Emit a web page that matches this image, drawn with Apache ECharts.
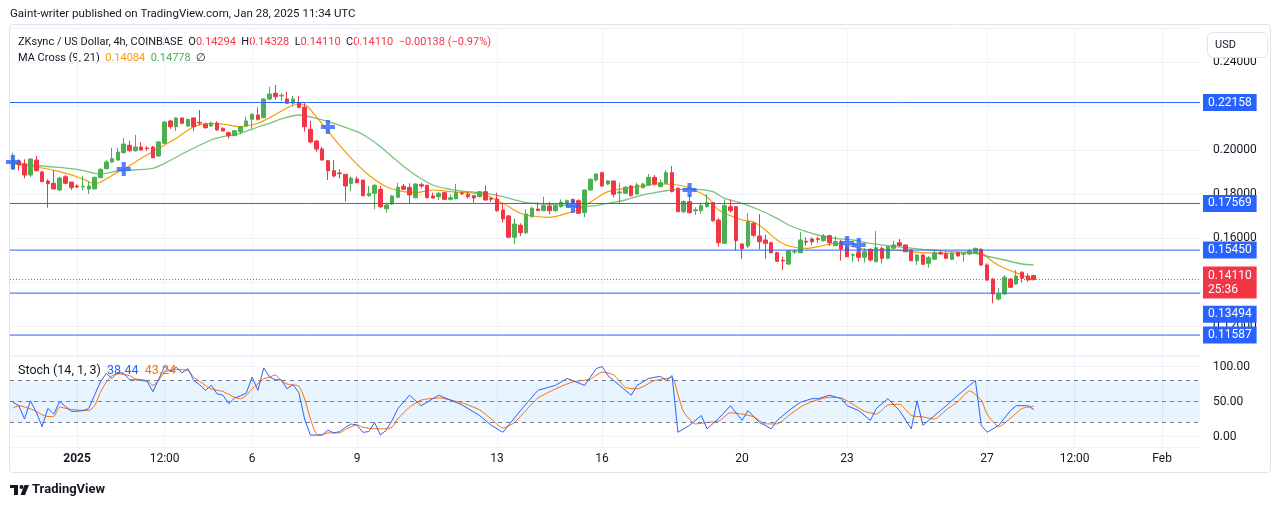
<!DOCTYPE html>
<html><head><meta charset="utf-8">
<script src="https://cdn.jsdelivr.net/npm/echarts@6/dist/echarts.min.js"></script>
<style>html,body{margin:0;padding:0;background:#fff;}#c{width:1281px;height:508px;}</style>
</head><body><div id="c"></div>
<script>
const FONT = "Roboto, 'Liberation Sans', sans-serif";
const startTime = Date.UTC(2024, 11, 30, 4);
const slotCount = 204;
const categories = [];
for (let i = 0; i < slotCount; i++) {
  categories.push(new Date(startTime + i * 4 * 3600e3).toISOString().slice(0, 16).replace('T', ' '));
}
const tickIdx = [11, 26, 41, 59, 83, 101, 125, 143, 167, 182, 197];
const tickText = ['2025', '12:00', '6', '9', '13', '16', '20', '23', '27', '12:00', 'Feb'];

const opens = [0.19123,0.19500,0.19364,0.18864,0.19545,0.19000,0.18591,0.18486,0.18182,0.18786,
0.18545,0.18364,0.18318,0.18227,0.18227,0.18741,0.19150,0.19455,0.19545,0.19877,
0.20214,0.19968,0.20136,0.20091,0.20136,0.19727,0.20305,0.21318,0.21059,0.21455,
0.21091,0.21455,0.21259,0.21168,0.21091,0.21214,0.20986,0.20786,0.20650,0.20832,
0.21091,0.21395,0.21591,0.21468,0.22318,0.22577,0.22455,0.22318,0.22123,0.22150,
0.21941,0.20941,0.20409,0.20045,0.19514,0.19059,0.18955,0.18895,0.18486,0.18682,
0.18636,0.17923,0.18032,0.18214,0.17332,0.17545,0.17850,0.18350,0.18305,0.17832,
0.18423,0.18395,0.17909,0.17877,0.18059,0.17759,0.17786,0.18045,0.17986,0.17923,
0.17877,0.18105,0.17805,0.17773,0.17273,0.17000,0.16032,0.16577,0.16241,0.16968,
0.17318,0.17241,0.17455,0.17241,0.17423,0.17545,0.17695,0.17695,0.17150,0.18182,
0.18636,0.18968,0.18455,0.18591,0.18045,0.18032,0.18364,0.18000,0.18286,0.18409,
0.18759,0.18332,0.18486,0.18968,0.18259,0.17195,0.17650,0.17241,0.17241,0.17423,
0.17605,0.16818,0.15759,0.17423,0.17423,0.15727,0.15636,0.16668,0.16091,0.15909,
0.15786,0.15332,0.14986,0.14818,0.15364,0.15332,0.15850,0.15955,0.15968,0.15877,
0.16105,0.15650,0.15832,0.15559,0.15214,0.15332,0.15123,0.15486,0.14923,0.15532,
0.15077,0.15532,0.15786,0.15682,0.15455,0.14968,0.15227,0.14850,0.15032,0.15332,
0.15273,0.15032,0.15332,0.15259,0.15273,0.15305,0.15486,0.14773,0.14136,0.13227,
0.13455,0.14136,0.13909,0.14441,0.14273,0.14294];
const closes = [0.19545,0.19318,0.18864,0.19591,0.19059,0.18559,0.18468,0.18227,0.18727,0.18486,
0.18286,0.18318,0.18350,0.18364,0.18759,0.19123,0.19455,0.19605,0.19909,0.20273,
0.19968,0.20136,0.20000,0.20059,0.19650,0.20364,0.21273,0.21059,0.21455,0.21214,
0.21395,0.21059,0.21227,0.21014,0.21214,0.20909,0.20864,0.20650,0.20877,0.21059,
0.21318,0.21623,0.21395,0.22318,0.22545,0.22423,0.22486,0.22123,0.22318,0.21941,
0.21059,0.20364,0.20045,0.19545,0.19059,0.18818,0.18923,0.18364,0.18714,0.18514,
0.17923,0.18032,0.18395,0.17423,0.17500,0.17909,0.18305,0.18214,0.17955,0.18455,
0.18364,0.17832,0.17818,0.18032,0.17759,0.17832,0.18059,0.18014,0.17877,0.17818,
0.18105,0.17727,0.17759,0.17241,0.16864,0.16032,0.16636,0.16241,0.17091,0.17350,
0.17241,0.17468,0.17241,0.17468,0.17623,0.17695,0.17577,0.17123,0.18182,0.18668,
0.18909,0.18364,0.18591,0.17986,0.18091,0.18305,0.17923,0.18409,0.18455,0.18759,
0.18455,0.18514,0.18968,0.18105,0.17195,0.17650,0.17150,0.17286,0.17468,0.17605,
0.16786,0.15786,0.17468,0.17241,0.15877,0.15514,0.16741,0.16123,0.15832,0.15759,
0.15332,0.14941,0.14955,0.15423,0.15395,0.15909,0.15818,0.15832,0.15941,0.16091,
0.15786,0.15832,0.15500,0.15150,0.15241,0.15123,0.15377,0.15000,0.15559,0.15077,
0.15605,0.15682,0.15650,0.15377,0.14968,0.15227,0.14805,0.15105,0.15332,0.15273,
0.15077,0.15305,0.15182,0.15286,0.15423,0.15532,0.14773,0.14091,0.13455,0.13455,
0.14214,0.13759,0.14273,0.14168,0.14091,0.14110];
const highs = [0.19877,0.19577,0.19577,0.19623,0.19727,0.19059,0.18668,0.19091,0.18786,0.18864,
0.18545,0.18441,0.18832,0.18559,0.18786,0.19168,0.19545,0.20105,0.20105,0.20532,
0.20409,0.20682,0.20350,0.20182,0.20182,0.20409,0.21305,0.21364,0.21486,0.21486,
0.21423,0.21486,0.21818,0.21241,0.21305,0.21305,0.21032,0.20832,0.20909,0.21091,
0.21514,0.21668,0.21941,0.22350,0.22877,0.22955,0.22577,0.22650,0.22455,0.22455,
0.22150,0.21332,0.20455,0.20150,0.19545,0.19545,0.19123,0.18909,0.18786,0.18786,
0.18636,0.18364,0.18455,0.18364,0.17605,0.17955,0.18514,0.18455,0.18486,0.18486,
0.18514,0.18409,0.18059,0.18105,0.18091,0.17986,0.18455,0.18123,0.18105,0.17955,
0.18136,0.18395,0.17877,0.18059,0.17577,0.17045,0.16895,0.16668,0.17305,0.17423,
0.17623,0.17877,0.17650,0.17532,0.17759,0.17759,0.17805,0.17759,0.18214,0.18714,
0.18941,0.19014,0.18636,0.18605,0.18514,0.18364,0.18409,0.18514,0.18514,0.18909,
0.18864,0.18668,0.19091,0.19273,0.18305,0.17727,0.17955,0.17395,0.17605,0.18000,
0.17650,0.16895,0.17759,0.17759,0.17455,0.15759,0.17123,0.16741,0.17091,0.16136,
0.15832,0.15377,0.15150,0.15455,0.15486,0.16286,0.16032,0.16032,0.16059,0.16182,
0.16150,0.16091,0.15909,0.15605,0.15305,0.15455,0.15532,0.15532,0.16318,0.15605,
0.15650,0.15877,0.15955,0.15714,0.15486,0.15273,0.15259,0.15182,0.15455,0.15423,
0.15377,0.15350,0.15377,0.15332,0.15486,0.15559,0.15532,0.14850,0.14168,0.13714,
0.14318,0.14168,0.14545,0.14486,0.14395,0.14328];
const lows = [0.19091,0.19059,0.18714,0.18759,0.19059,0.18559,0.17377,0.18227,0.18136,0.18455,
0.18182,0.18273,0.18182,0.18000,0.18227,0.18714,0.19123,0.19423,0.19514,0.19850,
0.19923,0.19923,0.19968,0.19968,0.19623,0.19695,0.20273,0.20955,0.20864,0.21182,
0.21059,0.20864,0.21123,0.20968,0.21059,0.20877,0.20832,0.20514,0.20636,0.20714,
0.21059,0.20968,0.21332,0.21441,0.22273,0.22273,0.22241,0.22123,0.22000,0.21895,
0.20832,0.20305,0.19923,0.19514,0.18636,0.18759,0.18714,0.17650,0.18136,0.18486,
0.17909,0.17877,0.17305,0.17350,0.17150,0.17500,0.17805,0.18182,0.17545,0.17805,
0.18259,0.17805,0.17786,0.17727,0.17727,0.17695,0.17759,0.17955,0.17786,0.17605,
0.17850,0.17695,0.17636,0.17195,0.16695,0.16014,0.15714,0.16091,0.16182,0.16941,
0.17227,0.17227,0.17077,0.17195,0.17377,0.17500,0.17500,0.17091,0.16941,0.18150,
0.18559,0.18332,0.18409,0.17850,0.17577,0.18000,0.17877,0.17968,0.18259,0.18364,
0.18377,0.18305,0.18455,0.18077,0.17168,0.17123,0.17123,0.17045,0.17091,0.17395,
0.16741,0.15605,0.15727,0.17150,0.15423,0.15059,0.15532,0.16032,0.15486,0.15059,
0.15305,0.14923,0.14545,0.14773,0.15273,0.15305,0.15650,0.15682,0.15786,0.15832,
0.15636,0.15636,0.14968,0.15123,0.14923,0.14923,0.14877,0.14923,0.14895,0.14850,
0.15032,0.15500,0.15605,0.15350,0.14955,0.14773,0.14773,0.14650,0.15000,0.15227,
0.15045,0.15000,0.15150,0.14923,0.15227,0.15273,0.14741,0.14045,0.13032,0.13150,
0.13423,0.13727,0.13877,0.13968,0.14014,0.14110];

// MA Cross (9, 21) readings [candle index, price]
const ma9 = [[0,0.19364],[5,0.19182],[8,0.19014],[11,0.18786],[13,0.18559],[14,0.18455],[16,0.18682],[18,0.19000],[19,0.19123],
[22,0.19623],[25,0.20077],[28,0.20532],[31,0.21059],[34,0.21214],[36,0.21182],[39,0.21059],[42,0.21214],[44,0.21468],[47,0.21909],
[49,0.22091],[50,0.22068],[52,0.21514],[55,0.20532],[58,0.19623],[61,0.18864],[64,0.18332],[67,0.18105],[69,0.18059],[72,0.18182],
[75,0.18105],[78,0.18059],[81,0.17955],[84,0.17577],[87,0.17123],[89,0.17000],[92,0.16941],[94,0.17045],[97,0.17305],[100,0.17805],
[102,0.18105],[105,0.18259],[108,0.18364],[111,0.18455],[114,0.18409],[116,0.18273],[119,0.17864],[121,0.17273],[125,0.16818],
[127,0.16727],[129,0.16364],[131,0.15909],[133,0.15636],[136,0.15532],[138,0.15605],[141,0.15759],[144,0.15605],[147,0.15455],
[150,0.15455],[153,0.15409],[156,0.15332],[159,0.15305],[161,0.15305],[164,0.15332],[166,0.15305],[168,0.14923],[170,0.14623],
[173,0.14318],[175,0.14084]];
const ma21 = [[0,0.19423],[5,0.19273],[11,0.19123],[15,0.18909],[18,0.19045],[24,0.19168],[26,0.19395],[30,0.19955],[34,0.20455],
[36,0.20605],[39,0.20759],[42,0.21045],[44,0.21214],[46,0.21409],[49,0.21591],[52,0.21441],[55,0.21214],[59,0.20832],[61,0.20532],
[63,0.20150],[66,0.19468],[69,0.18864],[72,0.18409],[75,0.18214],[78,0.18105],[81,0.18032],[84,0.17877],[88,0.17605],[94,0.17500],
[97,0.17423],[100,0.17468],[102,0.17577],[105,0.17727],[108,0.17955],[111,0.18105],[114,0.18214],[117,0.18214],[120,0.18105],
[122,0.17805],[125,0.17577],[128,0.17273],[131,0.16895],[133,0.16591],[136,0.16286],[138,0.16136],[141,0.15986],[144,0.15909],
[147,0.15759],[150,0.15650],[153,0.15559],[156,0.15486],[159,0.15423],[161,0.15377],[164,0.15350],[166,0.15227],[170,0.15000],
[173,0.14818],[175,0.14778]];
const crosses = [[0,0.19455],[19,0.19136],[54,0.21045],[96,0.17455],[116,0.18182],[143,0.15773],[145,0.15682]];

const levelPrices = [0.22158, 0.17569, 0.15450, 0.13494, 0.11587];
const lastPrice = 0.14110;
const countdown = '25:36';

// Stoch (14, 1, 3) readings [candle index, value]
const stochK = [[0,49],[1,44],[2,25],[3,51],[4,35],[5,14],[6,40],[7,32],[8,50],[9,43],[10,36],[11,36],[12,37],[13,40],[14,59],
[15,78],[16,90],[17,83],[18,92],[19,90],[20,81],[21,81],[22,80],[23,79],[24,64],[25,82],[26,100],[27,93],[28,99],[29,91],[30,97],
[31,80],[32,74],[33,66],[34,73],[35,61],[36,59],[37,47],[38,55],[39,58],[40,62],[41,85],[42,66],[43,98],[44,85],[45,81],[46,81],
[47,68],[48,74],[49,63],[50,25],[51,2],[52,2],[53,2],[54,9],[55,5],[56,7],[57,13],[58,18],[59,16],[60,6],[61,7],[62,20],[63,2],
[64,9],[65,23],[66,40],[68,59],[70,44],[73,59],[77,45],[80,30],[82,16],[84,6],[87,37],[90,66],[93,73],[95,83],[98,73],[100,97],
[101,100],[102,87],[104,73],[106,59],[107,73],[109,83],[111,86],[112,80],[113,87],[114,6],[116,16],[118,30],[119,11],[121,26],
[123,44],[125,23],[126,37],[128,20],[130,11],[131,23],[133,37],[135,49],[137,54],[138,54],[140,59],[142,54],[143,44],[145,37],
[147,23],[148,40],[150,54],[152,37],[154,11],[155,51],[156,16],[157,23],[159,37],[160,44],[162,59],[164,73],[165,80],[166,16],
[167,6],[169,16],[171,37],[172,44],[174,44],[175,38.44]];
const stochD = [[0,40.5],[1,44],[3,39.5],[4,35.7],[5,31],[6,28.6],[7,28.6],[8,42],[10,38.6],[13,37],[14,44],[15,63],[16,77.6],
[17,87],[18,89.5],[20,87],[21,82.4],[23,80],[24,73],[25,80],[26,92],[28,95.7],[30,94.3],[31,84.8],[33,73],[34,68],[36,64.3],
[38,56],[39,53.8],[40,58.6],[41,68],[43,82.4],[44,84.8],[45,88],[46,80],[47,75],[49,71.9],[50,53.8],[51,25.2],[52,3.8],[53,2.4],
[54,5.2],[56,5.2],[57,10],[59,16.7],[60,13.3],[62,11],[64,11],[65,13.3],[66,25.2],[68,42],[70,52],[73,55],[77,48],[80,38],[82,25],
[84,12],[86,20],[88,38],[90,55],[93,68],[96,78],[99,82],[101,92],[103,88],[105,70],[107,68],[110,80],[113,84],[114,60],[115,35],
[117,18],[119,20],[121,22],[123,34],[125,32],[127,28],[129,18],[131,18],[133,30],[135,42],[137,50],[140,56],[142,55],[144,46],
[146,36],[148,32],[150,45],[152,46],[154,30],[156,28],[158,25],[160,38],[162,50],[164,65],[166,52],[167,32],[169,14],[171,26],
[173,40],[175,43.24]];

const candleData = opens.map((o, i) => [o, closes[i], lows[i], highs[i]]);
const tickSet = new Set(tickIdx);
const isTick = (i) => tickSet.has(i);

const chart = echarts.init(document.getElementById('c'), null, {renderer: 'canvas'});
const gridColor = '#f0f3fa';
const textColor = '#131722';
const BLUE = '#2962ff';
const RED = '#f23645';

// Horizontal level lines: full-width lines on a hidden 0..1 value x-axis, labelled at the right end
function levelSeries(value, color, lineType, text, extraLabel, z) {
  return {
    type: 'line', xAxisIndex: 2, yAxisIndex: 0, data: [[0, value], [1, value]], silent: true, z: z,
    symbol: 'none', clip: false,
    lineStyle: {color: color, width: 1, type: lineType},
    emphasis: {disabled: true},
    endLabel: Object.assign({show: true, distance: 3, formatter: text, color: '#ffffff',
      backgroundColor: color, fontSize: 12, fontFamily: FONT, padding: [3, 5, 2, 5], align: 'left', verticalAlign: 'middle'}, extraLabel || {})
  };
}

const levelSeriesList = levelPrices.map(v =>
  levelSeries(v, BLUE, 'solid', v.toFixed(5), v === 0.13494 ? {offset: [0, 21]} : null, 6));
levelSeriesList.push(levelSeries(lastPrice, RED, [1, 2], lastPrice.toFixed(5) + '\n' + countdown,
  {lineHeight: 14, padding: [2, 5, 2, 5], offset: [0, 3]}, 7));

const option = {
  animation: false,
  backgroundColor: '#ffffff',
  textStyle: {fontFamily: FONT},
  grid: [
    {left: 10, right: 81, top: 28, height: 327},
    {left: 10, right: 81, top: 356, height: 91}
  ],
  xAxis: [
    {type: 'category', gridIndex: 0, data: categories, boundaryGap: true,
     axisLine: {show: false}, axisTick: {show: false}, axisLabel: {show: false},
     splitLine: {show: true, interval: (i) => isTick(i), alignWithLabel: true, lineStyle: {color: gridColor, width: 1}}},
    {type: 'category', gridIndex: 1, data: categories, boundaryGap: true,
     axisLine: {show: false}, axisTick: {show: false},
     axisLabel: {show: true, interval: (i) => isTick(i), margin: 6, color: textColor, fontSize: 12, fontFamily: FONT,
       formatter: (v, i) => { const k = tickIdx.indexOf(i); if (k < 0) return ''; return tickText[k] === '2025' ? '{b|2025}' : tickText[k]; },
       rich: {b: {fontWeight: 'bold', fontSize: 12, color: textColor, fontFamily: FONT}}},
     splitLine: {show: true, interval: (i) => isTick(i), alignWithLabel: true, lineStyle: {color: gridColor, width: 1}}},
    {type: 'value', gridIndex: 0, min: 0, max: 1, show: false}
  ],
  yAxis: [
    {type: 'value', gridIndex: 0, position: 'right', min: 0.10682, max: 0.25545, splitNumber: 7, minInterval: 0.02, maxInterval: 0.02,
     axisLine: {show: false}, axisTick: {show: false},
     axisLabel: {margin: 13, color: textColor, fontSize: 12, fontFamily: FONT,
       formatter: (v) => Math.abs(v / 0.02 - Math.round(v / 0.02)) < 1e-6 ? v.toFixed(5) : ''},
     splitLine: {lineStyle: {color: gridColor}}},
    {type: 'value', gridIndex: 1, position: 'right', min: -15, max: 115, splitNumber: 2, minInterval: 50, maxInterval: 50,
     axisLine: {show: false}, axisTick: {show: false},
     axisLabel: {margin: 13, color: textColor, fontSize: 12, fontFamily: FONT,
       formatter: (v) => (v === 0 || v === 50 || v === 100) ? v.toFixed(2) : ''},
     splitLine: {lineStyle: {color: gridColor}}}
  ],
  series: [
    {type: 'candlestick', xAxisIndex: 0, yAxisIndex: 0, data: candleData, barWidth: 4, z: 4,
     itemStyle: {color: '#4caf50', color0: RED, borderColor: '#4caf50', borderColor0: RED, borderWidth: 1}},
    {type: 'line', name: 'MA9', xAxisIndex: 0, yAxisIndex: 0, data: ma9, smooth: 0.3, symbol: 'none',
     lineStyle: {color: '#ff9800', width: 1.2}, z: 3},
    {type: 'line', name: 'MA21', xAxisIndex: 0, yAxisIndex: 0, data: ma21, smooth: 0.3, symbol: 'none',
     lineStyle: {color: 'rgba(76,175,80,0.75)', width: 1.3}, z: 3},
    {type: 'scatter', xAxisIndex: 0, yAxisIndex: 0, data: crosses, symbol: 'path://M3.5,0H6.5V3.5H10V6.5H6.5V10H3.5V6.5H0V3.5H3.5Z',
     symbolSize: 14, itemStyle: {color: BLUE}, z: 5},
    {type: 'line', name: 'K', xAxisIndex: 1, yAxisIndex: 1, data: stochK, symbol: 'none',
     lineStyle: {color: BLUE, width: 1}, z: 4,
     markArea: {silent: true, itemStyle: {color: 'rgba(33,150,243,0.1)'}, data: [[{yAxis: 20}, {yAxis: 80}]]},
     markLine: {symbol: ['none', 'none'], silent: true, precision: 2, label: {show: false},
       lineStyle: {color: '#787b86', type: [4, 4], width: 1}, data: [{yAxis: 80}, {yAxis: 50}, {yAxis: 20}]}},
    {type: 'line', name: 'D', xAxisIndex: 1, yAxisIndex: 1, data: stochD, smooth: 0.2, symbol: 'none',
     lineStyle: {color: '#ff6d00', width: 1}, z: 3}
  ].concat(levelSeriesList),
  graphic: [
    {type: 'text', left: 10, top: 8, style: {text: 'Gaint-writer published on TradingView.com, Jan 28, 2025 11:34 UTC', fill: textColor, fontSize: 11.5, fontFamily: FONT}},
    {type: 'rect', shape: {x: 9.5, y: 24.5, width: 1261, height: 448, r: 3}, style: {fill: 'none', stroke: '#e0e3eb', lineWidth: 1}, silent: true},
    {type: 'text', x: 18, y: 42, style: {text: 'ZKsync / US Dollar, 4h, COINBASE  O{r|0.14294}  H{r|0.14328}  L{r|0.14110}  C{r|0.14110}  {r|\u22120.00138 (\u22120.97%)}',
       fill: textColor, fontSize: 11, fontFamily: FONT, verticalAlign: 'middle',
       rich: {r: {fill: RED, fontSize: 11, fontFamily: FONT}}}},
    {type: 'text', x: 18, y: 58, style: {text: 'MA Cross (9, 21)  {o|0.14084}  {g|0.14778}  \u2205',
       fill: textColor, fontSize: 11, fontFamily: FONT, verticalAlign: 'middle',
       rich: {o: {fill: '#ff9800', fontSize: 11, fontFamily: FONT}, g: {fill: '#4caf50', fontSize: 11, fontFamily: FONT}}}},
    {type: 'text', x: 18, y: 371, z: 10, style: {text: 'Stoch (14, 1, 3)  {b|38.44}  {o|43.24}',
       fill: textColor, fontSize: 12.5, fontFamily: FONT, verticalAlign: 'middle',
       rich: {b: {fill: BLUE, fontSize: 12.5, fontFamily: FONT}, o: {fill: '#ff6d00', fontSize: 12.5, fontFamily: FONT}}}},
    {type: 'rect', z: 10, shape: {x: 1207.5, y: 32.5, width: 60, height: 25, r: 5}, style: {fill: '#ffffff', stroke: '#e0e3eb', lineWidth: 1}},
    {type: 'text', z: 11, x: 1215, y: 45, style: {text: 'USD', fill: textColor, fontSize: 11, fontFamily: FONT, verticalAlign: 'middle'}},
    {type: 'group', x: 0, y: 0, children: [
      {type: 'rect', shape: {x: 10, y: 485, width: 8, height: 3}, style: {fill: '#131722'}},
      {type: 'rect', shape: {x: 14, y: 485, width: 4, height: 10}, style: {fill: '#131722'}},
      {type: 'circle', shape: {cx: 21.5, cy: 487, r: 2}, style: {fill: '#131722'}},
      {type: 'polygon', shape: {points: [[24.5, 485], [29, 485], [25, 495], [20.5, 495]]}, style: {fill: '#131722'}},
      {type: 'text', x: 32, y: 490, style: {text: 'TradingView', fill: '#131722', fontSize: 13, fontWeight: 'bold', fontFamily: FONT, verticalAlign: 'middle'}}
    ]}
  ]
};
chart.setOption(option);
</script>
</body></html>
